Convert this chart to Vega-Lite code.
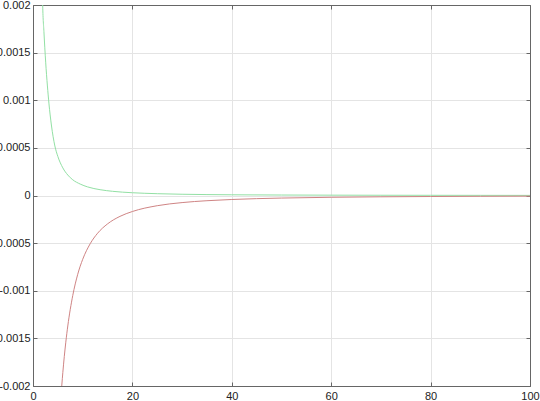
{
  "$schema": "https://vega.github.io/schema/vega-lite/v6.json",
  "width": 497,
  "height": 381,
  "autosize": {"type": "none"},
  "padding": {"left": 33, "top": 5, "right": 10, "bottom": 15},
  "background": "white",
  "config": {
    "view": {"stroke": "#666666", "strokeWidth": 1},
    "axis": {"labelFont": "Liberation Sans", "labelFontSize": 11, "labelColor": "#222222", "domainColor": "#666666", "tickColor": "#666666", "gridColor": "#e4e4e4", "gridWidth": 1}
  },
  "data": {"values": [
    {"x": 1.9, "y": 0.00215, "s": "g"},
    {"x": 1.95, "y": 0.002, "s": "g"},
    {"x": 2.2, "y": 0.00172, "s": "g"},
    {"x": 2.55, "y": 0.0014, "s": "g"},
    {"x": 2.9, "y": 0.00115, "s": "g"},
    {"x": 3.2, "y": 0.00097, "s": "g"},
    {"x": 3.7, "y": 0.00074, "s": "g"},
    {"x": 4.4, "y": 0.00052, "s": "g"},
    {"x": 5, "y": 0.00041, "s": "g"},
    {"x": 6, "y": 0.00029, "s": "g"},
    {"x": 7, "y": 0.000215, "s": "g"},
    {"x": 8, "y": 0.000165, "s": "g"},
    {"x": 9.5, "y": 0.00012, "s": "g"},
    {"x": 11, "y": 0.00009, "s": "g"},
    {"x": 13.5, "y": 0.000061, "s": "g"},
    {"x": 16, "y": 0.000044, "s": "g"},
    {"x": 20, "y": 0.000029, "s": "g"},
    {"x": 25, "y": 0.000019, "s": "g"},
    {"x": 30, "y": 0.000013, "s": "g"},
    {"x": 40, "y": 0.0000075, "s": "g"},
    {"x": 50, "y": 0.000005, "s": "g"},
    {"x": 60, "y": 0.0000035, "s": "g"},
    {"x": 70, "y": 0.0000026, "s": "g"},
    {"x": 80, "y": 0.000002, "s": "g"},
    {"x": 90, "y": 0.0000016, "s": "g"},
    {"x": 100, "y": 0.0000013, "s": "g"},
    {"x": 5.7, "y": -0.00206, "s": "r"},
    {"x": 5.8, "y": -0.00199, "s": "r"},
    {"x": 6, "y": -0.00186, "s": "r"},
    {"x": 6.6, "y": -0.00154, "s": "r"},
    {"x": 7, "y": -0.00137, "s": "r"},
    {"x": 8, "y": -0.00105, "s": "r"},
    {"x": 9, "y": -0.000827, "s": "r"},
    {"x": 10, "y": -0.00067, "s": "r"},
    {"x": 11.5, "y": -0.000507, "s": "r"},
    {"x": 13, "y": -0.000396, "s": "r"},
    {"x": 15, "y": -0.000298, "s": "r"},
    {"x": 17.5, "y": -0.000219, "s": "r"},
    {"x": 20, "y": -0.000168, "s": "r"},
    {"x": 25, "y": -0.000107, "s": "r"},
    {"x": 30, "y": -0.0000744, "s": "r"},
    {"x": 35, "y": -0.0000547, "s": "r"},
    {"x": 40, "y": -0.0000419, "s": "r"},
    {"x": 50, "y": -0.0000268, "s": "r"},
    {"x": 60, "y": -0.0000186, "s": "r"},
    {"x": 70, "y": -0.0000137, "s": "r"},
    {"x": 80, "y": -0.0000105, "s": "r"},
    {"x": 90, "y": -0.0000083, "s": "r"},
    {"x": 100, "y": -0.0000067, "s": "r"}
  ]},
  "layer": [
    {
      "mark": {"type": "line", "clip": true, "strokeWidth": 1, "interpolate": "monotone"},
      "encoding": {
        "x": {"field": "x", "type": "quantitative", "scale": {"domain": [0, 100], "nice": false, "zero": false},
              "axis": {"title": null, "values": [0, 20, 40, 60, 80, 100], "tickSize": -4, "labelPadding": 8, "grid": true, "labelFlush": false}},
        "y": {"field": "y", "type": "quantitative", "scale": {"domain": [-0.002, 0.002], "nice": false, "zero": false},
              "axis": {"title": null, "values": [-0.002, -0.0015, -0.001, -0.0005, 0, 0.0005, 0.001, 0.0015, 0.002], "tickSize": -4, "labelPadding": 7, "grid": true, "labelFlush": false,
                       "labelExpr": "replace(format(datum.value, '~g'), '\u2212', '-')"}},
        "color": {"field": "s", "type": "nominal", "scale": {"domain": ["g", "r"], "range": ["#92e0a4", "#cf8484"]}, "legend": null},
        "detail": {"field": "s"}
      }
    },
    {
      "mark": {"type": "line", "opacity": 0},
      "encoding": {
        "x": {"field": "x", "type": "quantitative", "axis": {"orient": "top", "title": null, "labels": false, "grid": false, "values": [0, 20, 40, 60, 80, 100], "tickSize": -4}},
        "y": {"field": "y", "type": "quantitative", "axis": {"orient": "right", "title": null, "labels": false, "grid": false, "values": [-0.002, -0.0015, -0.001, -0.0005, 0, 0.0005, 0.001, 0.0015, 0.002], "tickSize": -4}},
        "detail": {"field": "s"}
      }
    }
  ],
  "resolve": {"axis": {"x": "independent", "y": "independent"}}
}
